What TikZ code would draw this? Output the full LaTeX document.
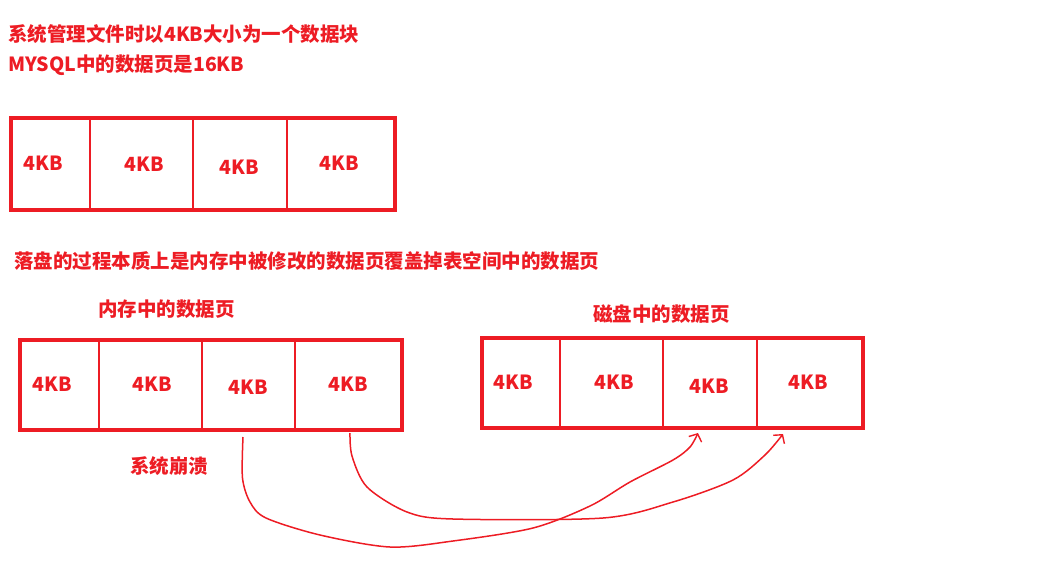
\documentclass[tikz,border=0pt]{standalone}
\usepackage{fontspec}
\newfontfamily\cjk{Noto Sans CJK SC}
\usetikzlibrary{arrows.meta}
\definecolor{pred}{RGB}{237,28,36}
\tikzset{
  txt/.style={anchor=west, inner sep=0pt, text=pred, font=\cjk\bfseries\fontsize{19.5}{23}\selectfont},
  lbl/.style={inner sep=0pt, text=pred, font=\cjk\bfseries\fontsize{19.5}{23}\selectfont},
  outer/.style={draw=pred, line width=4pt},
  divider/.style={draw=pred, line width=1.6pt},
  curve/.style={draw=pred, line width=1.5pt, -{Straight Barb[length=6pt,width=14pt,line width=1.4pt]}},
}
\begin{document}
\begin{tikzpicture}[x=1pt,y=-1pt]
\useasboundingbox (0,0) rectangle (1045,574);
% texts
\node[txt] (t1) at (8,34) {系统管理文件时以4KB大小为一个数据块};
\node[txt] (t2) at (8,65) {MYSQL中的数据页是16KB};
\node[txt] (t3) at (14,261) {落盘的过程本质上是内存中被修改的数据页覆盖掉表空间中的数据页};
\node[txt] (t4) at (98,309) {内存中的数据页};
\node[txt] (t5) at (593,314) {磁盘中的数据页};
\node[txt] (t6) at (130,466) {系统崩溃};
% box 1
\draw[outer] (11,118) rectangle (395,210);
\draw[divider] (90,120) -- (90,208);
\draw[divider] (193,120) -- (193,208);
\draw[divider] (287,120) -- (287,208);
\node[lbl] (a1) at (43,163) {4KB};
\node[lbl] (a2) at (144,164) {4KB};
\node[lbl] (a3) at (239,167) {4KB};
\node[lbl] (a4) at (339,163) {4KB};
% box 2 (memory)
\draw[outer] (20,340) rectangle (402,430);
\draw[divider] (99,342) -- (99,428);
\draw[divider] (202,342) -- (202,428);
\draw[divider] (295,342) -- (295,428);
\node[lbl] (m1) at (52,384) {4KB};
\node[lbl] (m2) at (152,384) {4KB};
\node[lbl] (m3) at (248,387) {4KB};
\node[lbl] (m4) at (348,384) {4KB};
% box 3 (disk)
\draw[outer] (482,338) rectangle (863,428);
\draw[divider] (560,340) -- (560,426);
\draw[divider] (663,340) -- (663,426);
\draw[divider] (757,340) -- (757,426);
\node[lbl] (d1) at (513,382) {4KB};
\node[lbl] (d2) at (614,382) {4KB};
\node[lbl] (d3) at (709,386) {4KB};
\node[lbl] (d4) at (808,382) {4KB};
% connectors
\coordinate (sA) at (243,437);
\coordinate (eA) at (698,433);
\coordinate (sB) at (350,433);
\coordinate (eB) at (783,434);
\draw[curve] plot[smooth, tension=0.5] coordinates {(sA) (242.5,478) (250,502) (266,518) (320,535) (390,547) (453,541) (533,528) (590,506) (630,482) (673,460) (690,447) (eA)};
\draw[curve] plot[smooth, tension=0.5] coordinates {(sB) (352,456) (367,487) (407,512) (453,519) (603,518) (673,502) (733,480) (765,455) (eB)};
\end{tikzpicture}
\end{document}
